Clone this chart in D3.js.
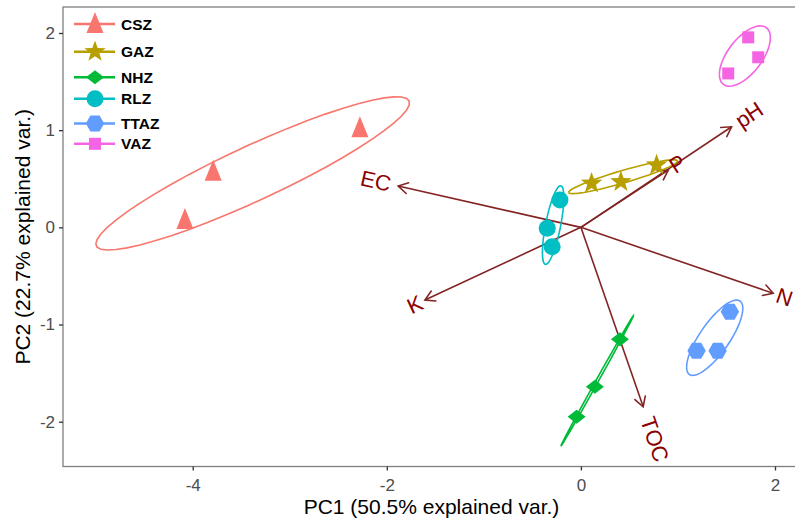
<!DOCTYPE html>
<html><head><meta charset="utf-8">
<script src="https://cdn.jsdelivr.net/npm/d3@7"></script>
<style>body{margin:0;background:#fff}svg{display:block}</style>
</head><body>
<svg id="c" width="795" height="522"></svg>
<script>
// ---------- data ----------
const groups = ["CSZ","GAZ","NHZ","RLZ","TTAZ","VAZ"];
const groupColors = ["#F8766D","#B79F00","#00BA38","#00BFC4","#619CFF","#F564E3"];
const CSZ  = [[-4.080,0.075],[-3.789,0.572],[-2.277,1.019]];
const GAZ  = [[0.110,0.453],[0.412,0.469],[0.780,0.641]];
const NHZ  = [[0.402,-1.152],[0.144,-1.640],[-0.044,-1.949]];
const RLZ  = [[-0.216,0.281],[-0.347,-0.010],[-0.296,-0.200]];
const TTAZ = [[1.535,-0.868],[1.192,-1.270],[1.409,-1.270]];
const VAZ  = [[1.724,1.955],[1.827,1.750],[1.518,1.584]];
const groupPoints = [CSZ,GAZ,NHZ,RLZ,TTAZ,VAZ];
const varNames = ["pH","P","EC","K","N","TOC"];
const varPC1 = [1.553,0.900,-1.883,-1.607,1.981,0.642];
const varPC2 = [1.035,0.590,0.425,-0.748,-0.679,-1.846];
const xTicks = [-4,-2,0,2];
const yTicks = [-2,-1,0,1,2];
const xTitle = "PC1 (50.5% explained var.)";
const yTitle = "PC2 (22.7% explained var.)";
const ellipseScale = 1.67;

// ---------- layout ----------
const svg = d3.select("#c");
const P = {l:63, t:7, r:800, b:466.5};
const x = d3.scaleLinear().domain([-4,2]).range([192.7,775]);
const y = d3.scaleLinear().domain([-2,2]).range([421.7,33]);
const font = "'Liberation Sans', Arial, sans-serif";

// panel
svg.append("rect").attr("x",P.l).attr("y",P.t).attr("width",P.r-P.l).attr("height",P.b-P.t)
  .attr("fill","#fff").attr("stroke","#7f7f7f").attr("stroke-width",1.3);

// axes
const xa = svg.append("g").attr("transform",`translate(0,${P.b})`)
  .call(d3.axisBottom(x).tickValues(xTicks).tickSize(4).tickPadding(4).tickFormat(d=>String(d)));
const ya = svg.append("g").attr("transform",`translate(${P.l},0)`)
  .call(d3.axisLeft(y).tickValues(yTicks).tickSize(4).tickPadding(4).tickFormat(d=>String(d)));
[xa,ya].forEach(g=>{
  g.select(".domain").remove();
  g.selectAll(".tick line").attr("stroke","#333").attr("stroke-width",1.3);
  g.selectAll(".tick text").attr("fill","#4d4d4d").style("font-family",font).style("font-size","17px");
});
xa.selectAll(".tick text").attr("dy",null).attr("y",24);
ya.selectAll(".tick text").attr("x",-8);

svg.append("text").attr("x",(P.l+P.r)/2).attr("y",514).attr("text-anchor","middle")
  .style("font-family",font).style("font-size","21px").attr("fill","#000").text(xTitle);
svg.append("text").attr("transform",`translate(30,${(P.t+P.b)/2}) rotate(-90)`).attr("text-anchor","middle")
  .style("font-family",font).style("font-size","21px").attr("fill","#000").text(yTitle);

// ---------- shapes ----------
function triangle(){return "M0,-12L8.5,9L-8.5,9Z";}
function star(){let s="";for(let i=0;i<10;i++){const r=i%2?4.6:11.3;const a=-Math.PI/2+i*Math.PI/5;s+=(i?"L":"M")+(r*Math.cos(a)).toFixed(2)+","+(r*Math.sin(a)).toFixed(2);}return s+"Z";}
function diamond(){return "M0,-7L9,0L0,7L-9,0Z";}
function circle(){return "M8.5,0A8.5,8.5 0 1,1 -8.5,0A8.5,8.5 0 1,1 8.5,0Z";}
function hexagon(){let s="";for(let i=0;i<6;i++){const a=i*Math.PI/3;s+=(i?"L":"M")+(9.2*Math.cos(a)).toFixed(2)+","+(9.2*Math.sin(a)).toFixed(2);}return s+"Z";}
function square(){return "M-6,-6L6,-6L6,6L-6,6Z";}
const shapes = [triangle,star,diamond,circle,hexagon,square];

// ---------- arrows ----------
const arrowCol = "#832424";
svg.append("defs").append("marker").attr("id","ah").attr("viewBox","-12 -7 14 14")
  .attr("markerWidth",14).attr("markerHeight",14).attr("refX",0).attr("refY",0)
  .attr("orient","auto").attr("markerUnits","userSpaceOnUse")
  .append("path").attr("d","M-9.5,-5.5L0,0L-9.5,5.5").attr("fill","none")
  .attr("stroke",arrowCol).attr("stroke-width",1.6).attr("stroke-linecap","round");
const arrows = varNames.map((n,i)=>({n,vx:varPC1[i],vy:varPC2[i]}));
svg.append("g").selectAll("line").data(arrows).join("line")
  .attr("x1",x(0)).attr("y1",y(0)).attr("x2",d=>x(d.vx)).attr("y2",d=>y(d.vy))
  .attr("stroke",arrowCol).attr("stroke-width",1.6).attr("marker-end","url(#ah)");

// ---------- points ----------
const pg = svg.append("g");
groupPoints.forEach((pts,gi)=>{
  pg.selectAll(null).data(pts).join("path")
    .attr("transform",d=>`translate(${x(d[0])},${y(d[1])})`)
    .attr("d",shapes[gi]()).attr("fill",groupColors[gi]);
});

// ---------- ellipses ----------
const theta = d3.range(50).map(i=>-Math.PI+i*2*Math.PI/49).concat(d3.range(50).map(i=>Math.PI-i*2*Math.PI/49));
const eg = svg.append("g");
groupPoints.forEach((pts,gi)=>{
  const mx=d3.mean(pts,d=>d[0]), my=d3.mean(pts,d=>d[1]);
  const n=pts.length;
  const a=d3.sum(pts,d=>(d[0]-mx)**2)/(n-1);
  const c=d3.sum(pts,d=>(d[1]-my)**2)/(n-1);
  const b=d3.sum(pts,d=>(d[0]-mx)*(d[1]-my))/(n-1);
  const r11=Math.sqrt(a), r12=b/r11, r22=Math.sqrt(Math.max(c-r12*r12,0));
  const ell = theta.map(t=>[mx+ellipseScale*Math.cos(t)*r11, my+ellipseScale*(Math.cos(t)*r12+Math.sin(t)*r22)]);
  eg.append("path").attr("d",d3.line().x(d=>x(d[0])).y(d=>y(d[1]))(ell))
    .attr("fill","none").attr("stroke",groupColors[gi]).attr("stroke-width",1.6);
});

// ---------- variable labels ----------
const lg = svg.append("g");
arrows.forEach(d=>{
  const ang = Math.atan(d.vy/d.vx)*180/Math.PI; // equal aspect
  const hj = (1-1.5*Math.sign(d.vx))/2;
  const t = lg.append("text").attr("transform",`translate(${x(d.vx)},${y(d.vy)}) rotate(${-ang})`)
    .style("font-family",font).style("font-size","22px").attr("fill","#8B0000")
    .attr("dominant-baseline","central").text(d.n);
  const w = t.node().getComputedTextLength();
  t.attr("x",-hj*w);
});

// ---------- legend ----------
const legY = [24,51.7,77.3,98.8,123.5,143.8];
const leg = svg.append("g");
groups.forEach((g,i)=>{
  leg.append("line").attr("x1",74).attr("x2",115).attr("y1",legY[i]).attr("y2",legY[i])
    .attr("stroke",groupColors[i]).attr("stroke-width",2.6);
  leg.append("path").attr("transform",`translate(95,${legY[i]})`).attr("d",shapes[i]()).attr("fill",groupColors[i]);
  leg.append("text").attr("x",121).attr("y",legY[i]).attr("dominant-baseline","central")
    .style("font-family",font).style("font-weight","bold").style("font-size","15.5px").attr("fill","#000").text(g);
});
</script>
</body></html>
